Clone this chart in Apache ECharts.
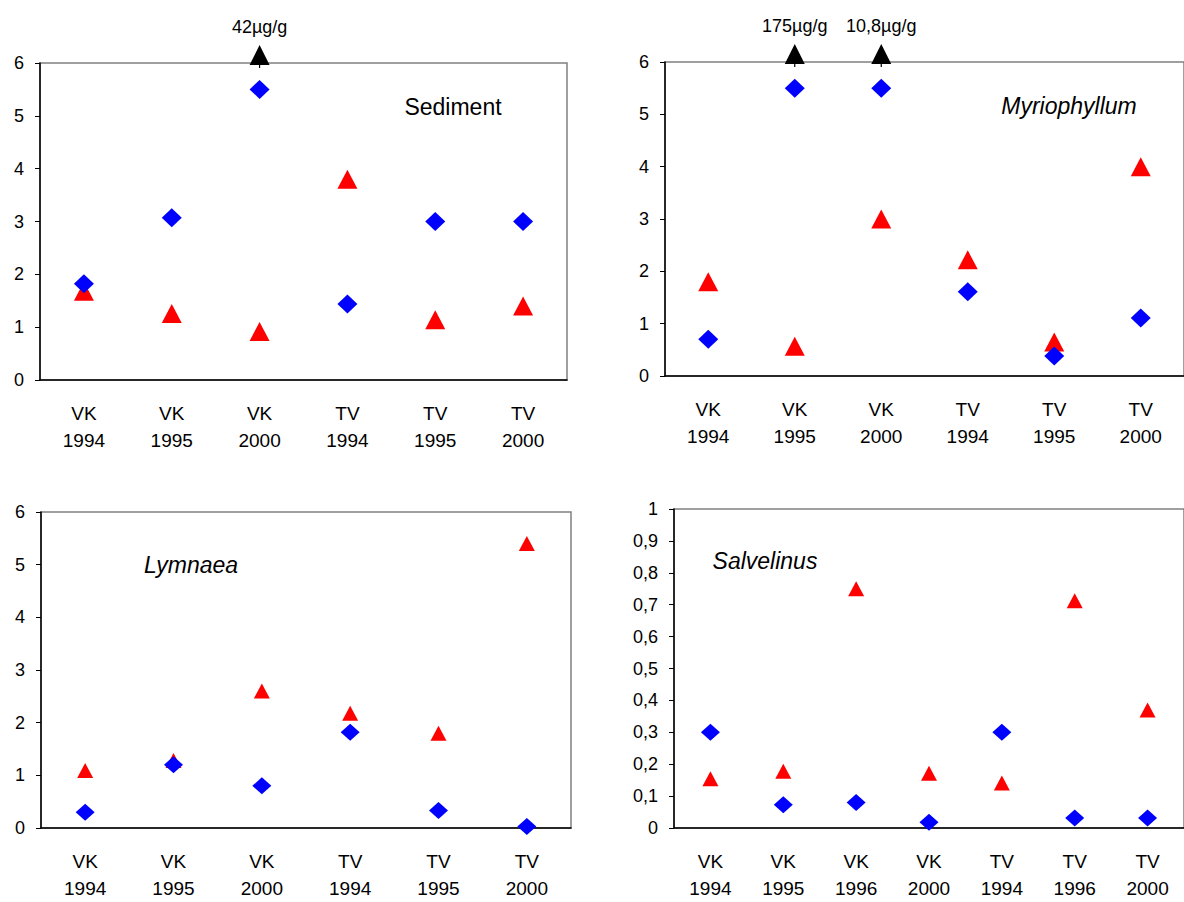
<!DOCTYPE html>
<html>
<head>
<meta charset="utf-8">
<script src="https://cdn.jsdelivr.net/npm/echarts@6/dist/echarts.min.js"></script>
<style>
  html, body { margin: 0; padding: 0; background: #fff; }
  #chart { width: 1184px; height: 902px; }
</style>
</head>
<body>
<div id="chart"></div>
<script>
// categories
const sites = ['VK\n1994', 'VK\n1995', 'VK\n2000', 'TV\n1994', 'TV\n1995', 'TV\n2000']
const salvSites = ['VK\n1994', 'VK\n1995', 'VK\n1996', 'VK\n2000', 'TV\n1994', 'TV\n1996', 'TV\n2000']

// blue diamonds / red triangles, per panel
const sedimentBlue = [1.82, 3.07, 5.5, 1.44, 3.0, 3.0]
const sedimentRed = [1.68, 1.26, 0.92, 3.8, 1.14, 1.4]
const myrioBlue = [0.7, 5.5, 5.5, 1.61, 0.38, 1.11]
const myrioRed = [1.8, 0.57, 3.0, 2.22, 0.65, 4.0]
const lymnBlue = [0.3, 1.2, 0.8, 1.82, 0.33, 0.03]
const lymnRed = [1.09, 1.28, 2.6, 2.18, 1.8, 5.4]
const salvBlue = [0.3, 0.073, 0.08, 0.018, 0.3, 0.031, 0.031]
const salvRed = [0.154, 0.178, 0.75, 0.172, 0.141, 0.712, 0.37]

// off-scale values, shown as arrows at the top of the axis
const sedimentOff = [['VK\n2000', 6, '42µg/g']]
const myrioOff = [['VK\n1995', 6, '175µg/g'], ['VK\n2000', 6, '10,8µg/g']]

// y tick settings
const yMax6 = 6
const yStep6 = 1
const yMaxSalv = 1
const yStepSalv = 0.1

const FONT = 'Liberation Sans, Arial, sans-serif'
const BLUE = '#0000ff'
const RED = '#ff0000'
const arrowPath = 'path://M10,0 L20,20 L10.6,20 L10.6,23 L9.4,23 L9.4,20 L0,20 Z'

const grids = [
  { left: 40, top: 63, width: 527, height: 317 },
  { left: 665, top: 62, width: 528, height: 314 },
  { left: 41, top: 512, width: 530, height: 317 },
  { left: 674, top: 509, width: 522, height: 323 }
]

const chart = echarts.init(document.getElementById('chart'), null, { renderer: 'svg' })

function mainX(i, data) {
  return {
    gridIndex: i,
    type: 'category',
    data: data,
    position: 'bottom',
    boundaryGap: true,
    axisLine: { lineStyle: { color: '#000', width: 1.5 } },
    axisTick: { length: 5, lineStyle: { color: '#000' } },
    axisLabel: { color: '#000', fontFamily: FONT, fontSize: 19, lineHeight: 27, margin: 20, interval: 0 },
    splitLine: { show: false }
  }
}
function tickX(i, data) {
  return {
    gridIndex: i,
    type: 'category',
    data: data,
    position: 'bottom',
    boundaryGap: true,
    axisLine: { show: false },
    axisTick: { length: 5, alignWithLabel: true, interval: 0, lineStyle: { color: '#000' } },
    axisLabel: { show: false },
    splitLine: { show: false }
  }
}
function yAx(i, max, step, fmt) {
  return {
    gridIndex: i,
    type: 'value',
    min: 0,
    max: max,
    interval: step,
    axisLine: { show: true, lineStyle: { color: '#000', width: 1.5 } },
    axisTick: { show: true, length: 5, lineStyle: { color: '#000' } },
    axisLabel: { color: '#000', fontFamily: FONT, fontSize: 18, margin: 16, formatter: fmt },
    splitLine: { show: false }
  }
}
const commaFmt = v => String(+v.toFixed(1)).replace('.', ',')

function pts(cats, vals) {
  return vals.map((v, k) => [cats[k], v])
}
function redSeries(i, cats, vals, size) {
  return {
    type: 'scatter', xAxisIndex: i * 2, yAxisIndex: i,
    symbol: 'triangle', symbolSize: size,
    itemStyle: { color: RED, opacity: 1 }, z: 3,
    data: pts(cats, vals)
  }
}
function blueSeries(i, cats, vals, size) {
  return {
    type: 'scatter', xAxisIndex: i * 2, yAxisIndex: i,
    symbol: 'diamond', symbolSize: size,
    itemStyle: { color: BLUE, opacity: 1 }, z: 4,
    data: pts(cats, vals)
  }
}
function offSeries(i, rows) {
  return {
    type: 'scatter', xAxisIndex: i * 2, yAxisIndex: i,
    symbol: arrowPath, symbolSize: [20, 23], symbolOffset: [0, -6.5],
    clip: false, z: 5,
    itemStyle: { color: '#000', opacity: 1 },
    label: {
      show: true, position: 'top', distance: 9,
      color: '#000', fontFamily: FONT, fontSize: 18,
      formatter: p => p.data[2]
    },
    data: rows
  }
}

function title(text, x, y, italic) {
  return {
    type: 'text', x: x, y: y,
    style: {
      text: text, fill: '#000', font: (italic ? 'italic ' : '') + '23px ' + FONT,
      textAlign: 'center', textVerticalAlign: 'middle'
    }
  }
}

chart.setOption({
  animation: false,
  backgroundColor: '#fff',
  grid: grids.map(g => Object.assign({ show: true, borderColor: '#808080', borderWidth: 1.5, containLabel: false }, g)),
  xAxis: [
    mainX(0, sites), tickX(0, sites),
    mainX(1, sites), tickX(1, sites),
    mainX(2, sites), tickX(2, sites),
    mainX(3, salvSites), tickX(3, salvSites)
  ],
  yAxis: [
    yAx(0, yMax6, yStep6),
    yAx(1, yMax6, yStep6),
    yAx(2, yMax6, yStep6),
    yAx(3, yMaxSalv, yStepSalv, commaFmt)
  ],
  series: [
    redSeries(0, sites, sedimentRed, [20, 19]),
    blueSeries(0, sites, sedimentBlue, [20, 19]),
    offSeries(0, sedimentOff),
    redSeries(1, sites, myrioRed, [20, 19]),
    blueSeries(1, sites, myrioBlue, [20, 19]),
    offSeries(1, myrioOff),
    redSeries(2, sites, lymnRed, [16, 15]),
    blueSeries(2, sites, lymnBlue, [19, 17]),
    redSeries(3, salvSites, salvRed, [16, 15]),
    blueSeries(3, salvSites, salvBlue, [19, 17])
  ],
  graphic: [
    title('Sediment', 453, 107, false),
    title('Myriophyllum', 1069, 106, true),
    title('Lymnaea', 191, 565, true),
    title('Salvelinus', 765, 561, true)
  ]
})
</script>
</body>
</html>
